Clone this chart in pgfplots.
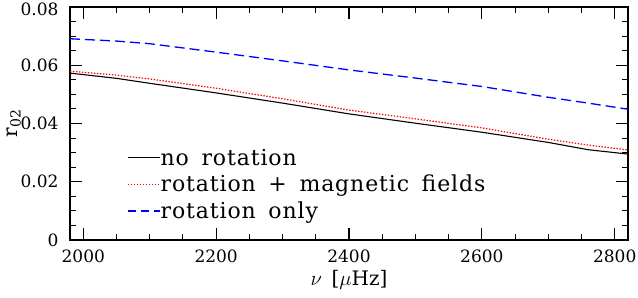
\documentclass[border=0pt]{standalone}
\usepackage{fontspec}
\setmainfont{DejaVu Serif}
\newfontfamily\legfont[LetterSpace=4,WordSpace=1.6]{DejaVu Serif}
\usepackage{pgfplots}
\pgfplotsset{compat=1.18}
\begin{document}
\begin{tikzpicture}
\begin{axis}[
  scale only axis, width=558pt, height=233pt,
  xmin=1980, xmax=2820, ymin=0, ymax=0.08,
  xtick={2000,2200,2400,2600,2800},
  xticklabels={2000,2200,2400,2600,2800},
  ytick={0,0.02,0.04,0.06,0.08},
  yticklabels={0,0.02,0.04,0.06,\smash{\raisebox{-8.7pt}{0.08}}},
  minor x tick num=3, minor y tick num=3,
  tick align=inside, ticks=both,
  xtick pos=both, ytick pos=both,
  major tick length=12pt, minor tick length=6pt,
  every tick/.style={black, line width=1.1pt},
  axis line style={line width=1.2pt},
  /pgf/number format/assume math mode=true,
  tick label style={font=\fontsize{17}{20}\selectfont},
  xticklabel style={yshift=-6pt},
  yticklabel style={xshift=-8pt},
  xlabel={$\nu$ \,[$\mu$Hz]},
  ylabel={r\textsubscript{02}},
  label style={font=\fontsize{20}{22}\selectfont},
  xlabel style={yshift=-1pt},
  ylabel style={yshift=-7pt},
  legend style={draw=none, fill=none, at={(rel axis cs:0.102,0.40)}, anchor=north west,
    font=\legfont\fontsize{22}{25}\selectfont, row sep=4.5pt, inner sep=0pt,
    nodes={inner xsep=0.5pt}},
  legend cell align=left,
  legend image code/.code={\draw[#1] (0pt,0pt) -- (32pt,0pt);},
]
\addplot[black, line width=1.1pt, legend image post style={line width=0.9pt}] coordinates {
(1980,0.0573) (2050,0.0555) (2100,0.0538) (2200,0.0505) (2300,0.0470)
(2400,0.0433) (2500,0.0401) (2600,0.0370) (2700,0.0335) (2760,0.0310) (2820,0.0295)};
\addlegendentry{no rotation}
\addplot[red, line width=1.2pt, dash pattern=on 1.4pt off 1.6pt, legend image post style={line width=1pt}] coordinates {
(1980,0.0580) (2050,0.0566) (2100,0.0553) (2200,0.0521) (2300,0.0485)
(2400,0.0446) (2500,0.0416) (2600,0.0385) (2700,0.0346) (2760,0.0326) (2820,0.0309)};
\addlegendentry{rotation + magnetic fields}
\addplot[blue, line width=1.3pt, dash pattern=on 10pt off 5pt, legend image post style={blue, line width=1.1pt, dash pattern=on 8pt off 5pt}] coordinates {
(1980,0.0691) (2050,0.0683) (2100,0.0674) (2200,0.0645) (2300,0.0615)
(2400,0.0584) (2500,0.0556) (2600,0.0527) (2700,0.0490) (2760,0.0470) (2820,0.0449)};
\addlegendentry{rotation only}
\coordinate (ll) at (rel axis cs:0,0);
\coordinate (ur) at (rel axis cs:1,1);
\end{axis}
\pgfresetboundingbox
\path[use as bounding box] ([shift={(-70pt,-58pt)}]ll) rectangle ([shift={(10pt,7pt)}]ur);
\end{tikzpicture}
\end{document}
